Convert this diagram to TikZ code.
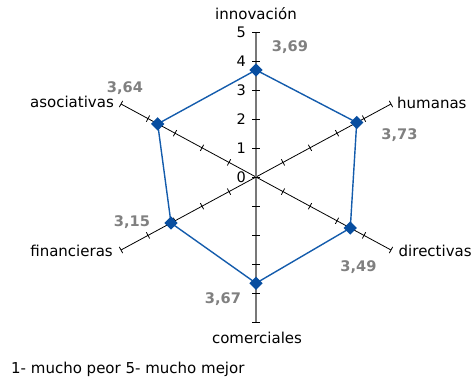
\documentclass[tikz,border=0pt]{standalone}
\usepackage{fontspec}
\setmainfont{DejaVu Sans}
\usetikzlibrary{shapes.geometric}
\definecolor{serie}{RGB}{20,92,172}
\definecolor{marker}{RGB}{8,78,160}
\definecolor{valgray}{RGB}{128,128,128}
\definecolor{axgray}{RGB}{120,120,120}
\begin{document}
\begin{tikzpicture}[x=1pt,y=-1pt,
  lbl/.style={font=\fontsize{15}{18}\selectfont, inner sep=0pt},
  val/.style={font=\fontsize{14.6}{17}\selectfont\bfseries, text=valgray, inner sep=0pt},
  num/.style={font=\fontsize{14.5}{17}\selectfont, inner sep=0pt, anchor=east},
  axline/.style={black, line width=0.8pt},
  vaxis/.style={axgray, line width=1.6pt},
  axtick/.style={black, line width=0.8pt},
  dmark/.style={diamond, fill=marker, inner sep=0pt, minimum size=13.5pt},
  polyline/.style={serie, line width=1.4pt}]
\useasboundingbox (0,0) rectangle (476,382);
% axes
\coordinate (c) at (256,177);
\coordinate (eI) at (256,32);
\coordinate (eH) at (391,104);
\coordinate (eD) at (391,250);
\coordinate (eC) at (256,322);
\coordinate (eF) at (121,250);
\coordinate (eA) at (121,104);
\draw[axline] (eA) -- (eD);
\draw[axline] (eH) -- (eF);
\draw[vaxis] (eI) -- (eC);
% ticks on vertical axis
\foreach \k in {0,...,5} {
  \draw[axtick] (252.3,177-29*\k) -- (259.7,177-29*\k);
}
\foreach \k in {1,...,5} {
  \draw[axtick] (252.3,177+29*\k) -- (259.7,177+29*\k);
}
% ticks on diagonal axes
\foreach \k in {1,...,5} {
  \draw[axtick] (256+27*\k+1.66,177-14.6*\k+3.08) -- (256+27*\k-1.66,177-14.6*\k-3.08);
  \draw[axtick] (256+27*\k-1.66,177+14.6*\k+3.08) -- (256+27*\k+1.66,177+14.6*\k-3.08);
  \draw[axtick] (256-27*\k+1.66,177+14.6*\k+3.08) -- (256-27*\k-1.66,177+14.6*\k-3.08);
  \draw[axtick] (256-27*\k-1.66,177-14.6*\k+3.08) -- (256-27*\k+1.66,177-14.6*\k-3.08);
}
% scale numbers
\foreach \k in {0,...,5} {
  \node[num] (n\k) at (246,177.5-29*\k) {\k};
}
% data
\coordinate (p1) at (256,70);
\coordinate (p2) at (356.7,122.5);
\coordinate (p3) at (350.3,228);
\coordinate (p4) at (256,283.2);
\coordinate (p5) at (171,223);
\coordinate (p6) at (157.7,123.9);
\draw[polyline] (p1) -- (p2) -- (p3) -- (p4) -- (p5) -- (p6) -- cycle;
\foreach \i in {1,...,6} { \node[dmark] (m\i) at (p\i) {}; }
% value labels
\node[val] (v1) at (290,46.7) {3,69};
\node[val] (v2) at (399.5,135.5) {3,73};
\node[val] (v3) at (358.5,267.5) {3,49};
\node[val] (v4) at (223,299) {3,67};
\node[val] (v5) at (132,222) {3,15};
\node[val] (v6) at (125,88.5) {3,64};
% category labels
\node[lbl, anchor=base] (tI) at (256,20) {innovación};
\node[lbl, anchor=base west] (tH) at (397,108.3) {humanas};
\node[lbl, anchor=base west] (tD) at (398.5,256.5) {directivas};
\node[lbl, anchor=base] (tC) at (257,343) {comerciales};
\node[lbl, anchor=base east] (tF) at (113,256) {financieras};
\node[lbl, anchor=base east] (tA) at (114,107.5) {asociativas};
% footer
\node[lbl, anchor=base west] (foot) at (11,373) {1- mucho peor 5- mucho mejor};
\end{tikzpicture}
\end{document}
